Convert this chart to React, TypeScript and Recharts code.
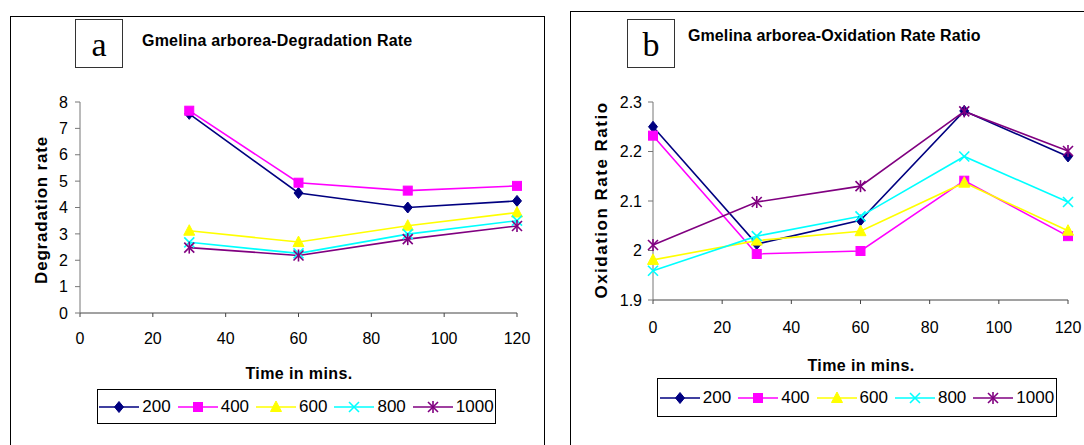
import React from "react";
import { Legend, Line, LineChart, XAxis, YAxis } from "recharts";

// panel a: degradation rate
const degTime = [30, 60, 90, 120];
const deg200 = [7.55, 4.55, 4.0, 4.25];
const deg400 = [7.67, 4.94, 4.64, 4.82];
const deg600 = [3.12, 2.69, 3.31, 3.81];
const deg800 = [2.68, 2.26, 2.99, 3.5];
const deg1000 = [2.48, 2.18, 2.8, 3.3];
const degXTicks = [0, 20, 40, 60, 80, 100, 120];
const degYTicks = [0, 1, 2, 3, 4, 5, 6, 7, 8];

// panel b: oxidation rate ratio
const oxTime = [0, 30, 60, 90, 120];
const ox200 = [2.25, 2.013, 2.061, 2.282, 2.19];
const ox400 = [2.232, 1.993, 1.999, 2.141, 2.029];
const ox600 = [1.981, 2.02, 2.039, 2.137, 2.04];
const ox800 = [1.959, 2.029, 2.069, 2.19, 2.098];
const ox1000 = [2.011, 2.098, 2.13, 2.281, 2.201];
const oxXTicks = [0, 20, 40, 60, 80, 100, 120];
const oxYTicks = [1.9, 2.0, 2.1, 2.2, 2.3];

const seriesNames = ["200", "400", "600", "800", "1000"];
const seriesColors = ["#000080", "#FF00FF", "#FFFF00", "#00FFFF", "#800080"];
const seriesShapes = ["diamond", "square", "triangle", "cross", "star"];

const degSeries = [deg200, deg400, deg600, deg800, deg1000];
const oxSeries = [ox200, ox400, ox600, ox800, ox1000];

const buildRows = (xs: number[], series: number[][]) =>
  xs.map((t, i) => {
    const row: Record<string, number> = { t };
    seriesNames.forEach((name, s) => {
      row["s" + name] = series[s][i];
    });
    return row;
  });

const degRows = buildRows(degTime, degSeries);
const oxRows = buildRows(oxTime, oxSeries);

const FONT = '"Liberation Sans", Arial, sans-serif';

const Marker = ({ shape, cx, cy, color }: { shape: string; cx: number; cy: number; color: string }) => {
  if (shape === "diamond") {
    return (
      <polygon
        points={`${cx},${cy - 5.5} ${cx + 4.5},${cy} ${cx},${cy + 5.5} ${cx - 4.5},${cy}`}
        fill={color}
        stroke={color}
      />
    );
  }
  if (shape === "square") {
    return <rect x={cx - 4.5} y={cy - 4.5} width={9} height={9} fill={color} stroke={color} />;
  }
  if (shape === "triangle") {
    return (
      <polygon
        points={`${cx},${cy - 6} ${cx + 5.5},${cy + 4.5} ${cx - 5.5},${cy + 4.5}`}
        fill={color}
        stroke={color}
      />
    );
  }
  if (shape === "cross") {
    return (
      <g stroke={color} strokeWidth={1.6}>
        <line x1={cx - 5} y1={cy - 5} x2={cx + 5} y2={cy + 5} />
        <line x1={cx - 5} y1={cy + 5} x2={cx + 5} y2={cy - 5} />
      </g>
    );
  }
  return (
    <g stroke={color} strokeWidth={1.6}>
      <line x1={cx - 5} y1={cy - 5} x2={cx + 5} y2={cy + 5} />
      <line x1={cx - 5} y1={cy + 5} x2={cx + 5} y2={cy - 5} />
      <line x1={cx} y1={cy - 6} x2={cx} y2={cy + 6} />
    </g>
  );
};

const makeDot = (s: number) => (props: any) => {
  const { cx, cy, index } = props;
  if (cx == null || cy == null) return <g key={index} />;
  return (
    <g key={`d${s}-${index}`}>
      <Marker shape={seriesShapes[s]} cx={cx} cy={cy} color={seriesColors[s]} />
    </g>
  );
};

const LegendBox = () => (
  <div
    style={{
      boxSizing: "border-box",
      width: "100%",
      height: "100%",
      border: "1.5px solid #000",
      background: "#fff",
      display: "flex",
      alignItems: "center",
      justifyContent: "center",
      fontFamily: FONT,
      fontSize: 17,
      color: "#000",
    }}
  >
    {seriesNames.map((name, s) => (
      <div key={name} style={{ display: "flex", alignItems: "center", marginRight: s < 4 ? 7 : 0 }}>
        <svg width={40} height={16}>
          <line x1={0} y1={8} x2={40} y2={8} stroke={seriesColors[s]} strokeWidth={1.6} />
          <Marker shape={seriesShapes[s]} cx={20} cy={8} color={seriesColors[s]} />
        </svg>
        <span style={{ marginLeft: 3 }}>{name}</span>
      </div>
    ))}
  </div>
);

const tickStyle = { fontFamily: FONT, fontSize: 16, fill: "#000" };

const fmt = (v: number) => String(Number(v.toFixed(1)));

const abs = (style: React.CSSProperties): React.CSSProperties => ({ position: "absolute", ...style });

const boldText: React.CSSProperties = {
  fontFamily: FONT,
  fontWeight: "bold",
  fontSize: 16,
  lineHeight: "20px",
  whiteSpace: "nowrap",
  color: "#000",
};

const LetterBox = ({ left, letter }: { left: number; letter: string }) => (
  <div
    style={abs({
      left,
      top: 19,
      width: 48,
      height: 49,
      boxSizing: "border-box",
      border: "1px solid #333",
      display: "flex",
      alignItems: "center",
      justifyContent: "center",
      fontFamily: '"Liberation Serif", "Times New Roman", serif',
      fontSize: 34,
      paddingTop: 2,
    })}
  >
    {letter}
  </div>
);

export default function App() {
  return (
    <div style={abs({ left: 0, top: 0, width: 1084, height: 445, background: "#fff", overflow: "hidden" })}>
      {/* panel frames */}
      <div style={abs({ left: 10, top: 16, width: 535, height: 460, border: "1.5px solid #000", boxSizing: "border-box" })} />
      <div style={abs({ left: 570, top: 11, width: 600, height: 460, border: "1.5px solid #000", boxSizing: "border-box" })} />

      <LetterBox left={75} letter="a" />
      <LetterBox left={627} letter="b" />

      <div style={abs({ ...boldText, left: 142, top: 31, letterSpacing: 0.2 })}>Gmelina arborea-Degradation Rate</div>
      <div style={abs({ ...boldText, left: 688, top: 26, letterSpacing: 0.1 })}>Gmelina arborea-Oxidation Rate Ratio</div>

      <div style={abs({ ...boldText, left: 299, top: 364, transform: "translateX(-50%)", letterSpacing: 0.4 })}>Time in mins.</div>
      <div style={abs({ ...boldText, left: 861, top: 356, transform: "translateX(-50%)", letterSpacing: 0.4 })}>Time in mins.</div>

      <div
        style={abs({ ...boldText, fontSize: 17, left: 42, top: 210, transform: "translate(-50%, -50%) rotate(-90deg)", letterSpacing: 0.8 })}
      >
        Degradation rate
      </div>
      <div
        style={abs({ ...boldText, fontSize: 17, left: 602, top: 200, transform: "translate(-50%, -50%) rotate(-90deg)", letterSpacing: 1.5 })}
      >
        Oxidation Rate Ratio
      </div>

      <div style={abs({ left: 0, top: 0 })}>
        <LineChart width={545} height={445} data={degRows} margin={{ top: 102, right: 28, bottom: 0, left: 0 }}>
          <XAxis
            dataKey="t"
            type="number"
            domain={[0, 120]}
            ticks={degXTicks}
            height={132}
            tick={tickStyle}
            tickSize={4}
            tickMargin={16}
            stroke="#444"
            interval={0}
          />
          <YAxis
            type="number"
            domain={[0, 8]}
            ticks={degYTicks}
            width={80}
            tick={tickStyle}
            tickSize={5}
            tickMargin={7}
            stroke="#777"
            interval={0}
          />
          <Legend
            layout="horizontal"
            verticalAlign="middle"
            align="center"
            wrapperStyle={{ top: 389, left: 97, width: 399, height: 35 }}
            content={() => <LegendBox />}
          />
          {seriesNames.map((name, s) => (
            <Line
              key={name}
              dataKey={"s" + name}
              name={name}
              stroke={seriesColors[s]}
              strokeWidth={1.6}
              dot={makeDot(s)}
              activeDot={false}
              isAnimationActive={false}
            />
          ))}
        </LineChart>
      </div>

      <div style={abs({ left: 545, top: 0 })}>
        <LineChart width={539} height={445} data={oxRows} margin={{ top: 102, right: 16, bottom: 0, left: 0 }}>
          <XAxis
            dataKey="t"
            type="number"
            domain={[0, 120]}
            ticks={oxXTicks}
            height={145}
            tick={tickStyle}
            tickSize={4}
            tickMargin={18}
            stroke="#444"
            interval={0}
          />
          <YAxis
            type="number"
            domain={[1.9, 2.3]}
            ticks={oxYTicks}
            tickFormatter={fmt}
            width={108}
            tick={tickStyle}
            tickSize={5}
            tickMargin={6}
            stroke="#777"
            interval={0}
          />
          <Legend
            layout="horizontal"
            verticalAlign="middle"
            align="center"
            wrapperStyle={{ top: 378, left: 112, width: 400, height: 39 }}
            content={() => <LegendBox />}
          />
          {seriesNames.map((name, s) => (
            <Line
              key={name}
              dataKey={"s" + name}
              name={name}
              stroke={seriesColors[s]}
              strokeWidth={1.6}
              dot={makeDot(s)}
              activeDot={false}
              isAnimationActive={false}
            />
          ))}
        </LineChart>
      </div>
    </div>
  );
}
